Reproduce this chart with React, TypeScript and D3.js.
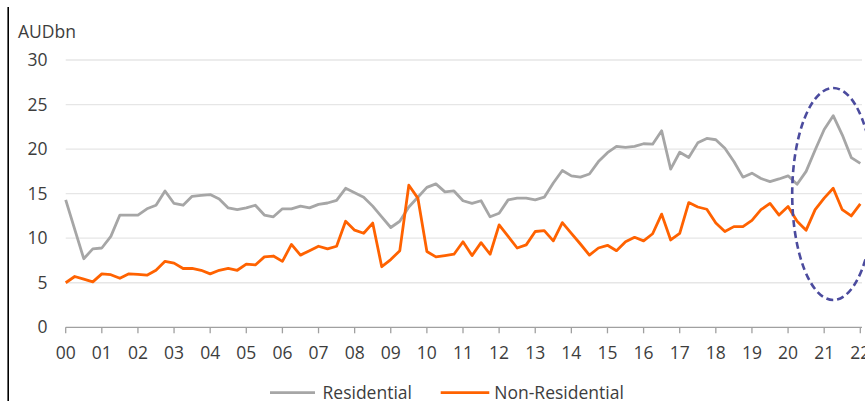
import React from "react";
import * as d3 from "d3";

// Quarterly building approvals value, AUD bn, from 2000 Q1
const startYear = 2000;
const residential = [
  14.3, 11.0, 7.7, 8.8, 8.9, 10.2, 12.6, 12.6, 12.6, 13.3, 13.7, 15.3, 13.9, 13.7, 14.7, 14.8,
  14.9, 14.4, 13.4, 13.2, 13.4, 13.7, 12.6, 12.4, 13.3, 13.3, 13.6, 13.4, 13.8, 13.95, 14.25, 15.6,
  15.1, 14.6, 13.6, 12.4, 11.2, 11.9, 13.5, 14.6, 15.7, 16.1, 15.2, 15.3, 14.2, 13.9, 14.2, 12.4,
  12.8, 14.3, 14.5, 14.5, 14.3, 14.6, 16.2, 17.6, 17.0, 16.85, 17.2, 18.6, 19.6, 20.3, 20.2, 20.3,
  20.6, 20.55, 22.05, 17.75, 19.65, 19.05, 20.7, 21.2, 21.05, 20.1, 18.6, 16.85, 17.3, 16.7, 16.35, 16.65,
  17.0, 16.05, 17.5, 19.9, 22.2, 23.75, 21.6, 19.05, 18.4,
];
const nonResidential = [
  5.0, 5.7, 5.4, 5.1, 6.0, 5.9, 5.5, 6.0, 5.95, 5.85, 6.4, 7.4, 7.2, 6.6, 6.6, 6.4,
  6.0, 6.4, 6.6, 6.4, 7.1, 7.0, 7.9, 8.0, 7.4, 9.3, 8.1, 8.6, 9.1, 8.8, 9.1, 11.9,
  10.9, 10.55, 11.7, 6.8, 7.6, 8.6, 15.95, 14.5, 8.5, 7.9, 8.05, 8.2, 9.6, 8.05, 9.5, 8.2,
  11.5, 10.2, 8.9, 9.25, 10.75, 10.85, 9.7, 11.75, 10.55, 9.35, 8.1, 8.9, 9.2, 8.6, 9.6, 10.1,
  9.7, 10.5, 12.7, 9.8, 10.55, 14.0, 13.5, 13.25, 11.7, 10.75, 11.3, 11.3, 12.0, 13.2, 13.9, 12.6,
  13.55, 11.9, 10.9, 13.2, 14.5, 15.6, 13.2, 12.5, 13.85,
];
const yTicks = [0, 5, 10, 15, 20, 25, 30];
const xTickYears = d3.range(2000, 2023);
const seriesNames = ["Residential", "Non-Residential"];
const unitLabel = "AUDbn";

const W = 865;
const H = 401;
const FONT = "'Open Sans', sans-serif";
const TEXT = "#3d3d3d";
const GREY = "#a6a6a6";
const ORANGE = "#ff6200";

export default function App() {
  const x = d3.scaleLinear().domain([2000, 2022]).range([65.7, 860.3]);
  const y = d3.scaleLinear().domain([0, 30]).range([327.3, 60]);
  const t = (i: number) => startYear + i / 4;
  const line = d3
    .line<number>()
    .x((_, i) => x(t(i)))
    .y((v) => y(v));

  return (
    <svg
      width={W}
      height={H}
      style={{ position: "absolute", left: 0, top: 0, background: "#fff" }}
      fontFamily={FONT}
    >
      <rect x={0} y={0} width={W} height={H} fill="#fff" />
      <line x1={8.2} x2={8.2} y1={7} y2={H} stroke="#000" strokeWidth={1.6} />

      <text x={18} y={37.5} fontSize={17.5} fill={TEXT}>
        {unitLabel}
      </text>

      {yTicks.map((v) => (
        <g key={v}>
          {v > 0 && (
            <line x1={65.7} x2={862} y1={y(v)} y2={y(v)} stroke="#e6e6e6" strokeWidth={1.3} />
          )}
          <text x={47.5} y={y(v)} dy="0.35em" textAnchor="end" fontSize={17.5} fill={TEXT}>
            {v}
          </text>
        </g>
      ))}

      <line x1={65.7} x2={862} y1={y(0)} y2={y(0)} stroke="#a0a0a0" strokeWidth={1.3} />
      {xTickYears.map((yr) => (
        <g key={yr}>
          <line x1={x(yr)} x2={x(yr)} y1={y(0)} y2={y(0) + 6} stroke="#a0a0a0" strokeWidth={1.3} />
          <text x={x(yr)} y={358.5} textAnchor="middle" fontSize={17.5} fill={TEXT}>
            {String(yr % 100).padStart(2, "0")}
          </text>
        </g>
      ))}

      <path d={line(residential) ?? ""} fill="none" stroke={GREY} strokeWidth={2.8} strokeLinejoin="round" />
      <path d={line(nonResidential) ?? ""} fill="none" stroke={ORANGE} strokeWidth={2.8} strokeLinejoin="round" />

      <ellipse
        cx={x(t(85))}
        cy={194}
        rx={41}
        ry={106}
        fill="none"
        stroke="#4b4b9e"
        strokeWidth={2.6}
        strokeDasharray="7 4"
      />

      <line x1={270} x2={315} y1={392.7} y2={392.7} stroke={GREY} strokeWidth={2.8} />
      <text x={322.5} y={398.5} fontSize={17.5} fill={TEXT}>
        {seriesNames[0]}
      </text>
      <line x1={440.7} x2={489.3} y1={392.7} y2={392.7} stroke={ORANGE} strokeWidth={2.8} />
      <text x={494.3} y={398.5} fontSize={17.5} fill={TEXT}>
        {seriesNames[1]}
      </text>
    </svg>
  );
}
